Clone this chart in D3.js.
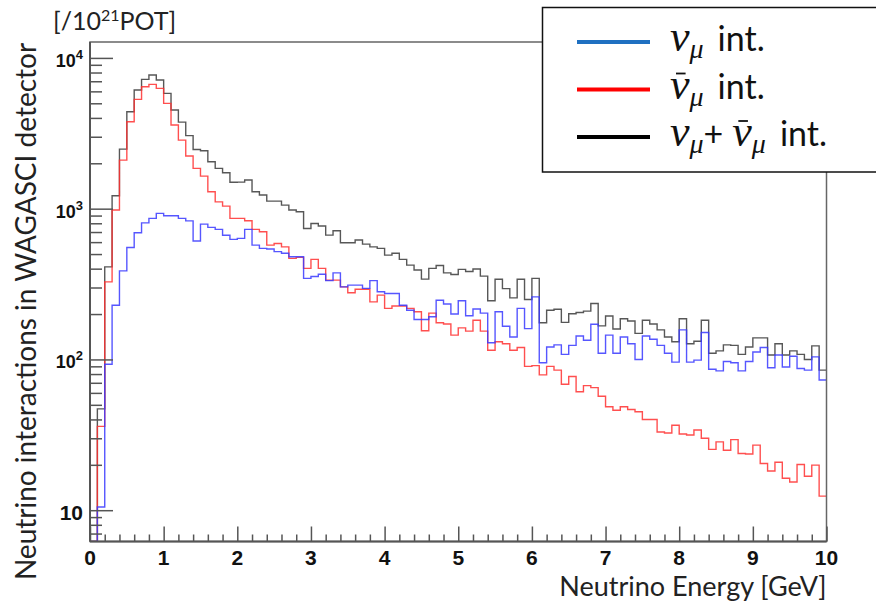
<!DOCTYPE html>
<html>
<head>
<meta charset="utf-8">
<script src="https://cdn.jsdelivr.net/npm/d3@7"></script>
<style>
    body { margin: 0; background: #fff; }
    .tick-label { font-family: "Liberation Sans", Arial, sans-serif; font-weight: bold; fill: #111; }
    .axis-title { font-family: Lato, "Open Sans", sans-serif; fill: #222; }
    .legend-text { font-family: Lato, "Open Sans", sans-serif; fill: #111; }
    .math { font-family: "Liberation Serif", "DejaVu Serif", serif; font-style: italic; }
</style>
</head>
<body>
<div id="chart"></div>
<script>
// histogram bin width [GeV], bins start at 0
const binWidth = 0.1;

// nu_mu interactions per bin
const numuInt = [
    0, 10.5, 93, 229, 387, 553, 692, 805, 862, 931,
    898, 898, 862, 830, 610, 790, 752, 729, 667, 626,
    635, 729, 573, 545, 540, 519, 506, 480, 480, 345,
    355, 367, 333, 375, 303, 311, 311, 296, 333, 281,
    274, 274, 229, 212, 184, 184, 192, 247, 233, 200,
    245, 195, 216, 203, 129, 207, 166, 141, 218, 160,
    260, 95, 121, 125, 108, 124, 143, 134, 171, 110,
    145, 110, 141, 127, 100, 143, 136, 124, 110, 96,
    157, 96, 99, 151, 86, 84, 97, 95, 84, 97,
    112, 120, 88, 107, 89, 105, 87, 85, 104, 73
];

// anti nu_mu interactions per bin
const numubarInt = [
    0, 36, 327, 979, 2100, 3776, 5309, 6442, 6680, 6280,
    4990, 3590, 2850, 2233, 1850, 1645, 1294, 1110, 1040, 862,
    862, 832, 729, 703, 573, 588, 558, 468, 475, 402,
    461, 402, 336, 336, 303, 277, 292, 292, 241, 267,
    218, 226, 226, 218, 207, 155, 203, 175, 172, 145,
    162, 154, 182, 154, 115, 131, 127, 115, 120, 90,
    91, 79, 90, 85, 68.5, 77, 61, 67, 65, 57,
    48.5, 46, 48.5, 46.5, 45, 40, 40, 33, 32.5, 36.6,
    32, 31.5, 34, 30, 25.3, 28.4, 25, 29.4, 23.8, 23.6,
    27, 20.4, 18.2, 20.8, 16.3, 15.4, 20.1, 16.8, 19.9, 12.4
];

// nu_mu + anti nu_mu interactions per bin
const totalInt = [
    0, 47, 411, 1218, 2484, 4395, 6124, 7210, 7700, 7140,
    5820, 4510, 3750, 3050, 2470, 2420, 2047, 1850, 1729, 1496,
    1500, 1549, 1294, 1231, 1122, 1122, 1056, 980, 953, 739,
    798, 767, 668, 713, 594, 594, 620, 582, 558, 545,
    492, 506, 461, 422, 392, 341, 402, 420, 375, 366,
    396, 383, 398, 357, 245, 340, 295, 256, 340, 250,
    345, 175, 212, 215, 176, 201, 205, 209, 235, 167,
    194, 159, 186, 180, 149, 182, 172, 157, 141, 131,
    186, 127, 132, 182, 110, 114, 125, 124, 108, 121,
    139, 139, 107, 127, 107, 114, 108, 100, 123, 85
];

// axis ticks and labels
const xTicks = [0, 1, 2, 3, 4, 5, 6, 7, 8, 9, 10];
const yTicks = [10, 100, 1000, 10000];
const yTickExponents = ["", "2", "3", "4"];
const xDomain = [0, 10];
const yDomain = [6.2, 12750];

const xTitle = "Neutrino Energy [GeV]";
const yTitle = "Neutrino interactions in WAGASCI detector";
const unitLabel = ["[/10", "21", "POT]"];
const legendSuffix = "int.";

function neutrinoChart(selector) {

    let width = 876,
        height = 605,
        frame = {left: 90, right: 826.5, top: 42, bottom: 541.5},

        xScale = d3.scaleLinear().domain(xDomain).range([frame.left, frame.right]),
        yScale = d3.scaleLog().domain(yDomain).range([frame.bottom, frame.top]),

        svg = d3.select(selector)
            .append('svg')
            .attr('width', width)
            .attr('height', height)
            .attr('viewBox', [0, 0, width, height].join(' '));

    // turn a list of bin contents into step points
    let stepPoints = function (values) {
        let pts = values.map((v, i) => [i * binWidth, v]);
        pts.push([values.length * binWidth, values[values.length - 1]]);
        return pts;
    };

    let line = d3.line()
        .curve(d3.curveStepAfter)
        .x(d => xScale(d[0]))
        .y(d => yScale(Math.max(d[1], yDomain[0])));

    svg.append('clipPath')
        .attr('id', 'frame-clip')
        .append('rect')
        .attr('x', frame.left)
        .attr('y', frame.top)
        .attr('width', frame.right - frame.left)
        .attr('height', frame.bottom - frame.top);

    // histograms
    let hists = svg.append('g').attr('clip-path', 'url(#frame-clip)');
    [[totalInt, '#3a3a3a'], [numubarInt, '#ff3030'], [numuInt, '#3838ff']].forEach(([vals, col]) => {
        hists.append('path')
            .attr('d', line(stepPoints(vals)))
            .attr('fill', 'none')
            .attr('stroke', col)
            .attr('stroke-opacity', 0.85)
            .attr('stroke-width', 1.4);
    });

    // frame
    svg.append('rect')
        .attr('x', frame.left)
        .attr('y', frame.top)
        .attr('width', frame.right - frame.left)
        .attr('height', frame.bottom - frame.top)
        .attr('fill', 'none')
        .attr('stroke', '#666')
        .attr('stroke-width', 1.5);

    // y ticks, pointing inwards
    let yMinor = yScale.ticks().filter(t => !yTicks.includes(t));
    let yAxisMajor = svg.append('g')
        .attr('transform', `translate(${frame.left},0)`)
        .call(d3.axisLeft(yScale).tickValues(yTicks).tickSize(-23).tickFormat(''));
    let yAxisMinor = svg.append('g')
        .attr('transform', `translate(${frame.left},0)`)
        .call(d3.axisLeft(yScale).tickValues(yMinor).tickSize(-12).tickFormat(''));

    // x ticks, pointing inwards
    let xMinor = xScale.ticks(50).filter(t => !xTicks.includes(t));
    let xAxisMajor = svg.append('g')
        .attr('transform', `translate(0,${frame.bottom})`)
        .call(d3.axisBottom(xScale).tickValues(xTicks).tickSize(-15).tickFormat(''));
    let xAxisMinor = svg.append('g')
        .attr('transform', `translate(0,${frame.bottom})`)
        .call(d3.axisBottom(xScale).tickValues(xMinor).tickSize(-7).tickFormat(''));

    [yAxisMajor, yAxisMinor, xAxisMajor, xAxisMinor].forEach(g => {
        g.select('.domain').remove();
        g.selectAll('line').attr('stroke', '#555').attr('stroke-width', 1.5);
    });

    // axis lines a bit darker than the rest of the frame
    svg.append('line')
        .attr('x1', frame.left).attr('x2', frame.left)
        .attr('y1', frame.top).attr('y2', frame.bottom)
        .attr('stroke', '#555').attr('stroke-width', 2);
    svg.append('line')
        .attr('x1', frame.left).attr('x2', frame.right)
        .attr('y1', frame.bottom).attr('y2', frame.bottom)
        .attr('stroke', '#555').attr('stroke-width', 2);

    // x tick labels
    svg.append('g')
        .selectAll('text')
        .data(xTicks)
        .join('text')
        .classed('tick-label', true)
        .attr('x', d => xScale(d))
        .attr('y', 565)
        .attr('text-anchor', 'middle')
        .attr('font-size', 21)
        .text(d => d);

    // y tick labels, 10^n
    yTicks.forEach((t, i) => {
        let exp = yTickExponents[i],
            label = svg.append('text')
                .classed('tick-label', true)
                .attr('x', 83)
                .attr('y', yScale(t) + (exp ? 9 : 10))
                .attr('text-anchor', 'end')
                .attr('font-size', exp ? 18 : 21);
        label.append('tspan').text('10');
        if (exp) {
            label.append('tspan')
                .attr('font-size', 13)
                .attr('dy', -8)
                .text(exp);
        }
    });

    // axis titles
    svg.append('text')
        .classed('axis-title', true)
        .attr('x', frame.right)
        .attr('y', 596)
        .attr('text-anchor', 'end')
        .attr('font-size', 27)
        .text(xTitle);

    svg.append('text')
        .classed('axis-title', true)
        .attr('transform', `translate(36,${(578 + 45) / 2}) rotate(-90)`)
        .attr('text-anchor', 'middle')
        .attr('font-size', 28)
        .text(yTitle);

    let unit = svg.append('text')
        .classed('axis-title', true)
        .attr('x', 53)
        .attr('y', 30)
        .attr('font-size', 25);
    unit.append('tspan').text(unitLabel[0]);
    unit.append('tspan').attr('font-size', 16).attr('dy', -9).text(unitLabel[1]);
    unit.append('tspan').attr('dy', 9).text(unitLabel[2]);

    // legend box, sits on top of the frame
    let legend = svg.append('g');
    legend.append('rect')
        .attr('x', 542.5)
        .attr('y', 7.5)
        .attr('width', 345)
        .attr('height', 164.5)
        .attr('fill', '#fff')
        .attr('stroke', '#111')
        .attr('stroke-width', 1.5);

    let entries = [
        {color: '#1f70c1', parts: [false]},
        {color: '#ff0000', parts: [true]},
        {color: '#000000', parts: [false, true]}
    ];

    entries.forEach((e, i) => {
        let yy = 42 + i * 47.5,
            base = yy + 9;
        legend.append('line')
            .attr('x1', 577).attr('x2', 650)
            .attr('y1', yy).attr('y2', yy)
            .attr('stroke', e.color)
            .attr('stroke-width', 4);

        // pieces of the label: nu, subscript mu, plus sign, suffix
        let pieces = [];
        e.parts.forEach((bar, k) => {
            if (k > 0) {
                pieces.push({t: '+', size: 34});
            }
            pieces.push({t: 'ν', math: true, size: 44, bar: bar, dx: k > 0 ? 9 : 0});
            pieces.push({t: 'μ', math: true, size: 28, sub: true});
        });
        pieces.push({t: legendSuffix, size: 34, dx: 14});

        let txt = legend.append('text')
            .classed('legend-text', true)
            .attr('x', 670)
            .attr('y', base),
            level = 0;
        pieces.forEach(p => {
            let lvl = p.sub ? 7 : 0;
            txt.append('tspan')
                .classed('math', !!p.math)
                .classed('nubar', !!p.bar)
                .attr('font-size', p.size)
                .attr('dx', p.dx || 0)
                .attr('dy', lvl - level)
                .text(p.t);
            level = lvl;
        });

        // bar over anti-neutrino symbol
        txt.selectAll('.nubar').each(function () {
            let b = this.getBBox();
            legend.append('line')
                .attr('x1', b.x + b.width * 0.3).attr('x2', b.x + b.width * 0.78)
                .attr('y1', base - 25).attr('y2', base - 25)
                .attr('stroke', '#111')
                .attr('stroke-width', 1.8);
        });
    });

    return svg;
}

neutrinoChart('#chart');
</script>
</body>
</html>
